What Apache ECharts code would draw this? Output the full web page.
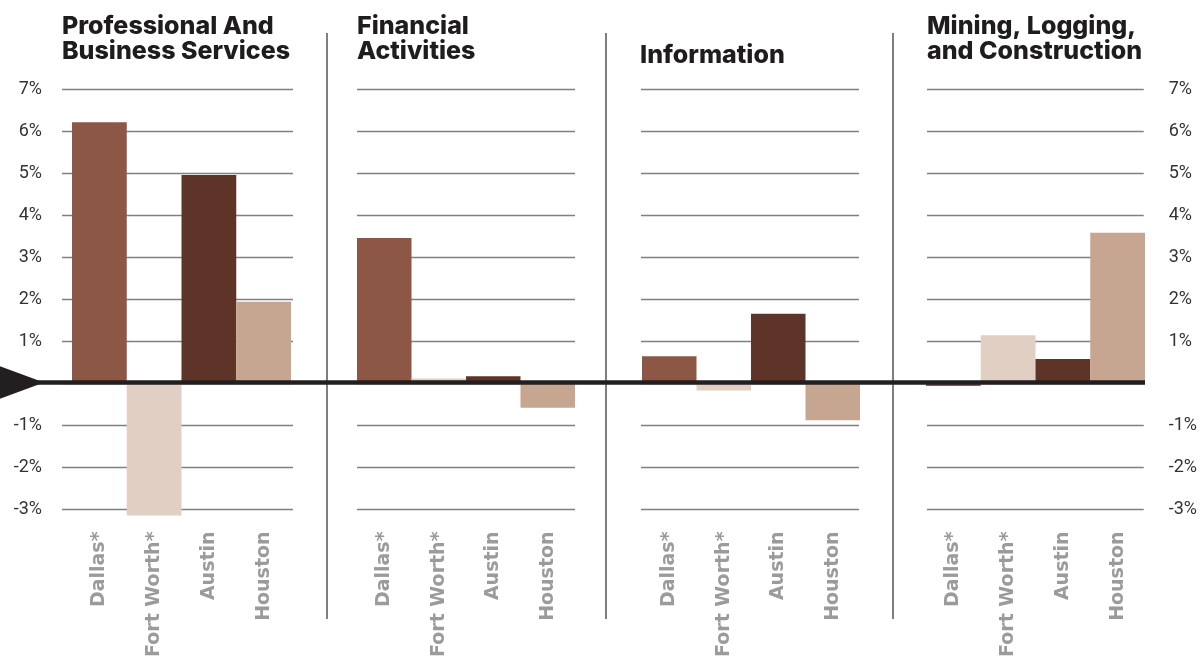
<!DOCTYPE html>
<html><head><meta charset="utf-8">
<script src="https://cdn.jsdelivr.net/npm/echarts@6/dist/echarts.min.js"></script>
<style>html,body{margin:0;padding:0;background:#fff}#c{width:1200px;height:660px}</style>
</head><body><div id="c"></div>
<script>
const cities = ['Dallas*', 'Fort Worth*', 'Austin', 'Houston'];
const cityColors = ['#8d5746', '#e1cfc3', '#5e3429', '#c6a591'];
const sectors = ['Professional And\nBusiness Services', 'Financial\nActivities', 'Information', 'Mining, Logging,\nand Construction'];
const proBusiness = [6.21, -3.17, 4.95, 1.93];
const financial = [3.45, 0.1, 0.15, -0.6];
const information = [0.63, -0.19, 1.64, -0.9];
const mining = [-0.08, 1.13, 0.56, 3.57];
const yMin = -3, yMax = 7, yStep = 1;

const panels = [proBusiness, financial, information, mining];
// layout (pixels)
const TOP = 89, H = 420;
const barBoxes = [[72, 219], [357, 218], [642, 218], [926, 219]];
const lineBoxes = [[62, 231], [357, 218], [641, 218], [927, 218]];
const titlePos = [[62, 14], [357, 14], [640, 43], [927, 14]];

const grids = [], xAxes = [], yAxes = [], series = [];
const fmt = v => v === 0 ? '' : v + '%';
// gridline grids (0..3)
lineBoxes.forEach((b, i) => {
  grids.push({left: b[0], top: TOP, width: b[1], height: H});
  xAxes.push({type: 'category', gridIndex: i, data: cities, show: false});
  yAxes.push({
    type: 'value', gridIndex: i, min: yMin, max: yMax, interval: yStep,
    position: i === 3 ? 'right' : 'left',
    axisLine: {show: false}, axisTick: {show: false},
    axisLabel: {show: i === 0 || i === 3, formatter: fmt, color: '#333',
      fontFamily: 'Roboto', fontSize: 18, margin: i === 0 ? 20 : 25},
    splitLine: {show: true, lineStyle: {color: '#808080', width: 1.3}}
  });
});
// bar grids (4..7)
barBoxes.forEach((b, i) => {
  const gi = i + 4;
  grids.push({left: b[0], top: TOP, width: b[1], height: H});
  xAxes.push({
    type: 'category', gridIndex: gi, data: cities,
    position: 'bottom', offset: 0,
    axisLine: {show: false}, axisTick: {show: false},
    axisLabel: {rotate: 90, color: '#9b9b9b', fontWeight: 'bold', fontFamily: 'DejaVu Sans',
      fontSize: 19, margin: 23, interval: 0}
  });
  yAxes.push({type: 'value', gridIndex: gi, min: yMin, max: yMax, interval: yStep, show: false,
    splitLine: {show: false}});
  series.push({
    type: 'bar', xAxisIndex: gi, yAxisIndex: gi, clip: false,
    barWidth: '100%', barCategoryGap: '0%',
    data: panels[i].map((v, k) => ({value: v, itemStyle: {color: cityColors[k]}})),
    silent: true, animation: false
  });
});

const titles = sectors.map((s, i) => ({
  text: s, left: titlePos[i][0], top: titlePos[i][1], padding: 0,
  textStyle: {fontFamily: 'Inter', fontWeight: 800, fontSize: 25, lineHeight: 25, color: '#1e1c1d'}
}));

const chart = echarts.init(document.getElementById('c'), null, {renderer: 'canvas'});
chart.setOption({
  animation: false,
  title: titles,
  grid: grids, xAxis: xAxes, yAxis: yAxes, series: series
});

const y0 = chart.convertToPixel({yAxisIndex: 4}, 0);
const endX = chart.convertToPixel({gridIndex: 7}, [3, 0])[0] + 219 / 8;
const dividers = [327, 606, 893];
const graphic = dividers.map(x => ({
  type: 'line', shape: {x1: x, y1: 33, x2: x, y2: 619},
  style: {stroke: '#555', lineWidth: 1.5}, z: 1
}));
graphic.push({type: 'line', shape: {x1: 0, y1: y0, x2: endX, y2: y0},
  style: {stroke: '#231f20', lineWidth: 4.5}, z: 100});
graphic.push({type: 'polygon', shape: {points: [[-2, y0 - 17], [44, y0], [-2, y0 + 17]]},
  style: {fill: '#231f20'}, z: 100});
chart.setOption({graphic: graphic});
</script></body></html>
